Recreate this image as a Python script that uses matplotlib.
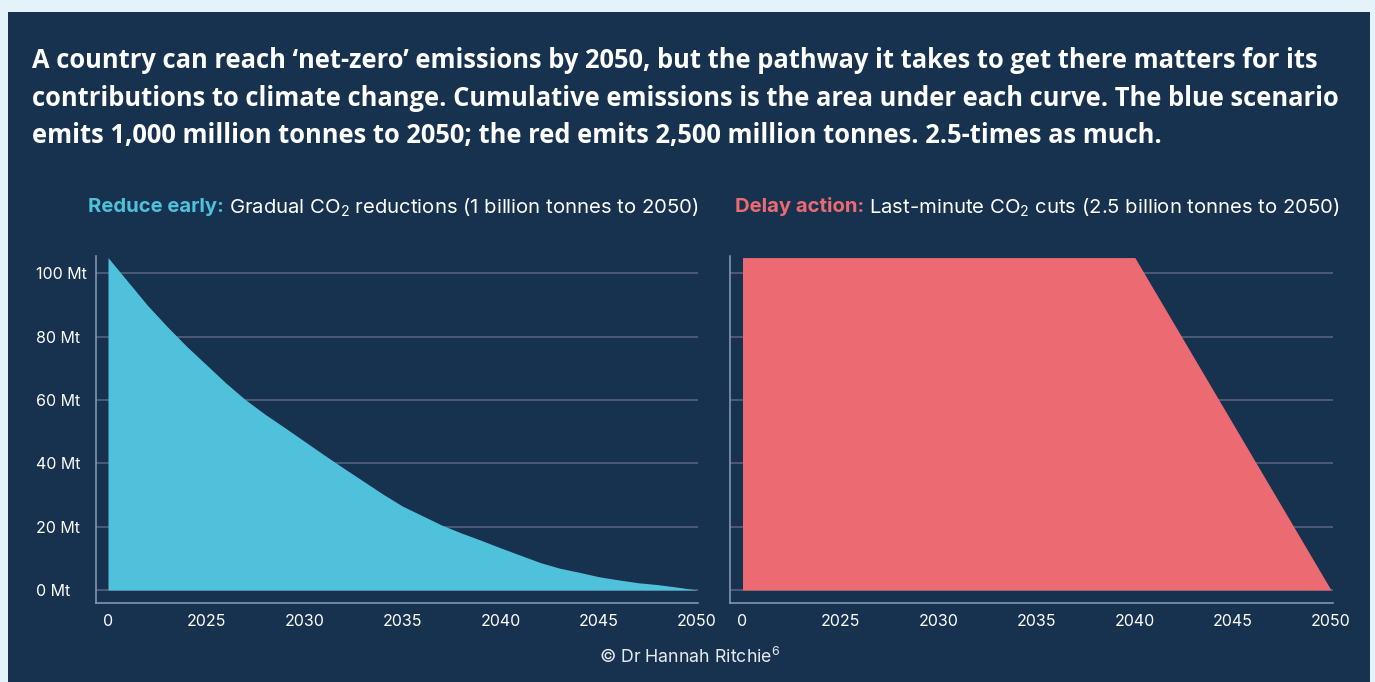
import matplotlib
matplotlib.use("Agg")
import matplotlib.pyplot as plt
from matplotlib.patches import Rectangle

# emissions pathways (million tonnes CO2 per year)
years = list(range(2020, 2051))
reduce_early = [105, 97.5, 90, 83.3, 77, 71.2, 65.4, 60.1, 55.5, 51.3,
                47, 42.7, 38.5, 34.4, 30.3, 26.5, 23.5, 20.5, 18, 15.7,
                13.3, 11, 8.7, 6.9, 5.6, 4.2, 3.2, 2.3, 1.7, 0.9, 0]
delay_years = [2020, 2040, 2050]
delay_action = [105, 105, 0]

x_ticks = [2020, 2025, 2030, 2035, 2040, 2045, 2050]
x_labels = ["0", "2025", "2030", "2035", "2040", "2045", "2050"]
y_ticks = [0, 20, 40, 60, 80, 100]
y_labels = ["0 Mt", "20 Mt", "40 Mt", "60 Mt", "80 Mt", "100 Mt"]

BG = "#e4f3fa"
PANEL = "#16324f"
BLUE = "#50c1db"
RED = "#ec6b72"
GRID = "#5b6682"
SPINE = "#8b9db1"
TEXT = "#ffffff"

plt.rcParams["font.family"] = ["Inter", "DejaVu Sans"]
plt.rcParams["mathtext.fontset"] = "custom"
plt.rcParams["mathtext.rm"] = "Inter"

W, H = 1375, 682
fig = plt.figure(figsize=(W / 100, H / 100), dpi=100, facecolor=BG)
fig.patches.append(Rectangle((8 / W, 0), 1362 / W, 670 / H, transform=fig.transFigure,
                             facecolor=PANEL, edgecolor="none", zorder=-10))

fig.text(32 / W, 1 - 47 / H,
         "A country can reach \u2018net-zero\u2019 emissions by 2050, but the pathway it takes to get there matters for its\n"
         "contributions to climate change. Cumulative emissions is the area under each curve. The blue scenario\n"
         "emits 1,000 million tonnes to 2050; the red emits 2,500 million tonnes. 2.5-times as much.",
         family=["Open Sans", "DejaVu Sans"], weight="bold", fontsize=18.4, color=TEXT,
         va="top", ha="left", linespacing=1.5)


def setup(ax, xlim, show_y):
    ax.set_facecolor("none")
    ax.set_xlim(*xlim)
    ax.set_ylim(-4.1, 105.5)
    for s in ["top", "right"]:
        ax.spines[s].set_visible(False)
    for s in ["left", "bottom"]:
        ax.spines[s].set_color(SPINE)
        ax.spines[s].set_linewidth(1.1)
    ax.set_yticks(y_ticks)
    ax.yaxis.grid(True, color=GRID, linewidth=1.1)
    ax.set_axisbelow(True)
    ax.set_xticks(x_ticks)
    ax.set_xticklabels(x_labels)
    ax.tick_params(axis="x", length=0, pad=8, labelsize=11.5, labelcolor=TEXT)
    if show_y:
        ax.set_yticklabels(y_labels)
        ax.tick_params(axis="y", length=0, pad=43, labelsize=11.5, labelcolor=TEXT)
        for lab in ax.get_yticklabels():
            lab.set_horizontalalignment("left")
    else:
        ax.tick_params(axis="y", length=0, labelleft=False)


ax1 = fig.add_axes([96 / W, 79 / H, 602 / W, 347 / H])
setup(ax1, (2019.389, 2050.05), True)
ax1.fill_between(years, reduce_early, 0, color=BLUE, linewidth=0, zorder=3)

ax2 = fig.add_axes([730 / W, 79 / H, 603 / W, 347 / H])
setup(ax2, (2019.363, 2050.1), False)
ax2.fill_between(delay_years, delay_action, 0, color=RED, linewidth=0, zorder=3)

# subtitles: coloured bold lead-in followed by regular text
fig.canvas.draw()
renderer = fig.canvas.get_renderer()


def subtitle(x_px, lead, rest, color):
    t = fig.text(x_px / W, 1 - 205 / H, lead, color=color, weight="bold", fontsize=14.6,
                 va="center_baseline", ha="left")
    bb = t.get_window_extent(renderer)
    fig.text(bb.x1 / W + 5 / W, 1 - 205 / H, rest, color=TEXT, fontsize=14.6,
             va="center_baseline", ha="left")


subtitle(88, "Reduce early:", "Gradual CO$_2$ reductions (1 billion tonnes to 2050)", BLUE)
subtitle(735, "Delay action:", "Last-minute CO$_2$ cuts (2.5 billion tonnes to 2050)", RED)

fig.text(690 / W, 1 - 657 / H, "\u00a9 Dr Hannah Ritchie$^6$", color="#e6ebf0", fontsize=12.8,
         ha="center", va="center")

fig.savefig("out.png", dpi=100, facecolor=BG)
